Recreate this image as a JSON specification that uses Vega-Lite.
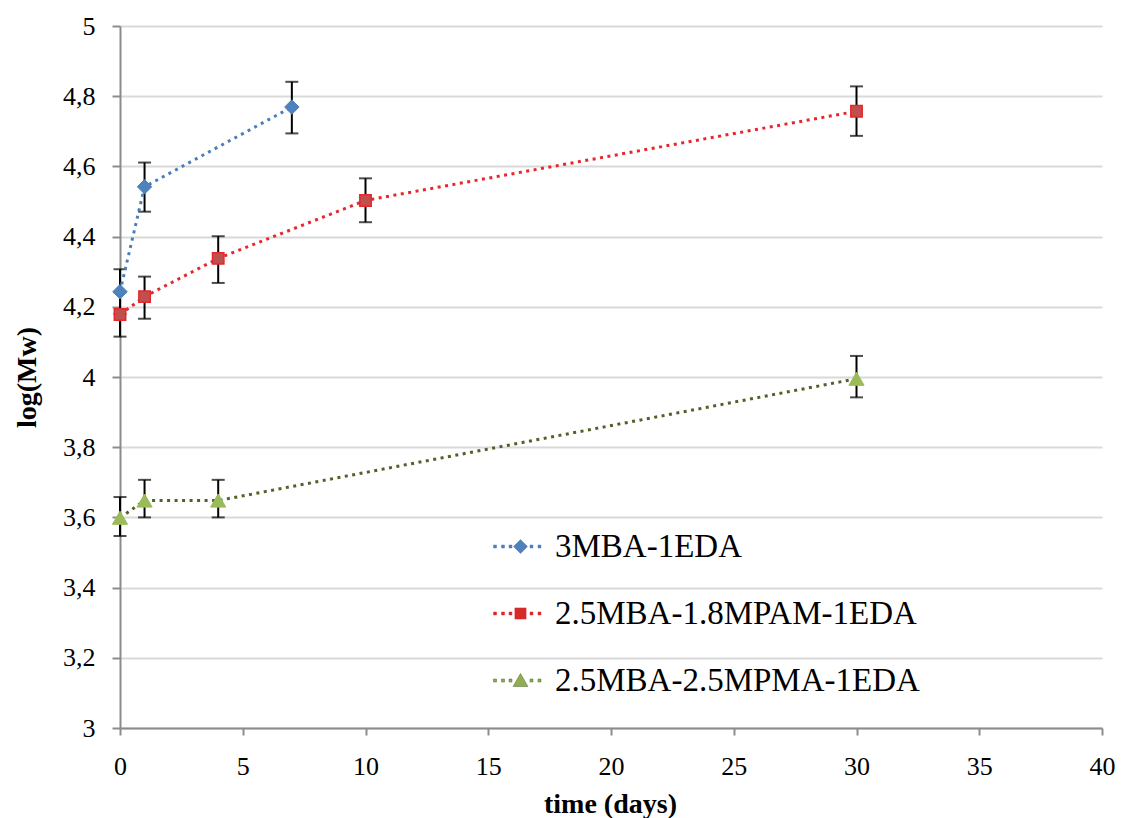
{
  "$schema": "https://vega.github.io/schema/vega-lite/v6.json",
  "width": 982,
  "height": 702,
  "autosize": "none",
  "padding": {"left": 120, "top": 26, "right": 22, "bottom": 90},
  "background": "white",
  "config": {
    "view": {"stroke": null},
    "font": "Liberation Serif",
    "axis": {"labelFont": "Liberation Serif, Times New Roman, DejaVu Serif, serif", "titleFont": "Liberation Serif"},
    "legend": {"labelFont": "Liberation Serif, Times New Roman, DejaVu Serif, serif", "labelFontSize": 33, "labelColor": "#000000", "labelLimit": 700}
  },
  "data": {
    "values": [
      {"series": "3MBA-1EDA", "t": 0, "y": 4.243, "lo": 4.179, "hi": 4.307},
      {"series": "3MBA-1EDA", "t": 1, "y": 4.542, "lo": 4.471, "hi": 4.611},
      {"series": "3MBA-1EDA", "t": 7, "y": 4.769, "lo": 4.694, "hi": 4.841},
      {"series": "2.5MBA-1.8MPAM-1EDA", "t": 0, "y": 4.178, "lo": 4.115, "hi": 4.241},
      {"series": "2.5MBA-1.8MPAM-1EDA", "t": 1, "y": 4.229, "lo": 4.166, "hi": 4.286},
      {"series": "2.5MBA-1.8MPAM-1EDA", "t": 4, "y": 4.338, "lo": 4.268, "hi": 4.401},
      {"series": "2.5MBA-1.8MPAM-1EDA", "t": 10, "y": 4.503, "lo": 4.441, "hi": 4.566},
      {"series": "2.5MBA-1.8MPAM-1EDA", "t": 30, "y": 4.757, "lo": 4.687, "hi": 4.828},
      {"series": "2.5MBA-2.5MPMA-1EDA", "t": 0, "y": 3.599, "lo": 3.547, "hi": 3.658},
      {"series": "2.5MBA-2.5MPMA-1EDA", "t": 1, "y": 3.648, "lo": 3.6, "hi": 3.707},
      {"series": "2.5MBA-2.5MPMA-1EDA", "t": 4, "y": 3.648, "lo": 3.6, "hi": 3.707},
      {"series": "2.5MBA-2.5MPMA-1EDA", "t": 30, "y": 3.995, "lo": 3.942, "hi": 4.06}
    ]
  },
  "encoding": {
    "x": {
      "field": "t", "type": "quantitative",
      "scale": {"domain": [0, 40], "nice": false, "zero": false},
      "axis": {
        "title": "time (days)",
        "values": [0, 5, 10, 15, 20, 25, 30, 35, 40],
        "grid": false,
        "domainColor": "#8c8c8c", "domainWidth": 2,
        "tickColor": "#8c8c8c", "tickWidth": 2, "tickSize": 7,
        "labelFont": "Liberation Serif, Times New Roman, DejaVu Serif, serif", "labelFontSize": 26, "labelColor": "#000000",
        "labelPadding": 18, "labelFlush": false,
        "titleFont": "Liberation Serif", "titleFontSize": 28, "titleFontWeight": "bold", "titleColor": "#000000",
        "titleX": 490, "titleY": 76, "titleBaseline": "middle", "titleAlign": "center"
      }
    }
  },
  "layer": [
    {
      "mark": {"type": "errorbar", "thickness": 2, "color": "#000000", "ticks": {"size": 13, "thickness": 2, "color": "#000000"}, "rule": {"strokeWidth": 2, "color": "#000000"}},
      "encoding": {
        "y": {"field": "lo", "type": "quantitative", "title": "log(Mw)", "scale": {"domain": [3, 5], "nice": false, "zero": false}},
        "y2": {"field": "hi"}
      }
    },
    {
      "mark": {"type": "line", "strokeWidth": 3, "strokeDash": [3, 4.5]},
      "encoding": {
        "y": {
          "field": "y", "type": "quantitative", "title": "log(Mw)",
          "scale": {"domain": [3, 5], "nice": false, "zero": false},
          "axis": {
            "title": "log(Mw)",
            "values": [3, 3.2, 3.4, 3.6, 3.8, 4, 4.2, 4.4, 4.6, 4.8, 5],
            "labelExpr": "replace(format(datum.value, '.1~f'), '.', ',')",
            "grid": true, "gridColor": "#d9d9d9", "gridWidth": 2,
            "domainColor": "#8c8c8c", "domainWidth": 2,
            "tickColor": "#8c8c8c", "tickWidth": 2, "tickSize": 8,
            "labelFont": "Liberation Serif, Times New Roman, DejaVu Serif, serif", "labelFontSize": 26, "labelColor": "#000000",
            "labelPadding": 17, "labelFlush": false,
            "titleFont": "Liberation Serif", "titleFontSize": 28, "titleFontWeight": "bold", "titleColor": "#000000",
            "titleX": -93, "titleY": 351, "titleBaseline": "middle", "titleAlign": "center", "titleAngle": -90
          }
        },
        "color": {
          "field": "series", "type": "nominal", "title": null,
          "scale": {"domain": ["3MBA-1EDA", "2.5MBA-1.8MPAM-1EDA", "2.5MBA-2.5MPMA-1EDA"], "range": ["#4a7ebb", "#e8262b", "#4f6228"]},
          "legend": {
            "title": null,
            "orient": "none",
            "legendX": 384,
            "legendY": 504,
            "padding": 0,
            "symbolSize": 196,
            "symbolOffset": 0,
            "symbolStrokeWidth": 0.5,
            "labelOffset": 18,
            "rowPadding": 33,
            "labelFont": "Liberation Serif, Times New Roman, DejaVu Serif, serif",
            "labelFontSize": 33,
            "labelColor": "#000000",
            "labelLimit": 700
          }
        }
      }
    },
    {
      "transform": [{"filter": "false"}],
      "mark": {"type": "point", "filled": true, "opacity": 1},
      "encoding": {
        "y": {"field": "y", "type": "quantitative", "title": "log(Mw)"},
        "fill": {
          "field": "series", "type": "nominal", "title": null,
          "scale": {"domain": ["3MBA-1EDA", "2.5MBA-1.8MPAM-1EDA", "2.5MBA-2.5MPMA-1EDA"], "range": ["#4f81bd", "#d42a2a", "#8fae55"]}
        },
        "shape": {
          "field": "series", "type": "nominal", "title": null,
          "scale": {"domain": ["3MBA-1EDA", "2.5MBA-1.8MPAM-1EDA", "2.5MBA-2.5MPMA-1EDA"], "range": [
            "M0,-1L1,0L0,1L-1,0ZM-3.85,-0.21L-3.43,-0.21L-3.43,0.21L-3.85,0.21ZM-2.71,-0.21L-2.29,-0.21L-2.29,0.21L-2.71,0.21ZM-1.64,-0.21L-1.22,-0.21L-1.22,0.21L-1.64,0.21ZM1.36,-0.21L1.78,-0.21L1.78,0.21L1.36,0.21ZM2.5,-0.21L2.92,-0.21L2.92,0.21L2.5,0.21Z",
            "M-0.8,-0.8L0.8,-0.8L0.8,0.8L-0.8,0.8ZM-3.85,-0.21L-3.43,-0.21L-3.43,0.21L-3.85,0.21ZM-2.71,-0.21L-2.29,-0.21L-2.29,0.21L-2.71,0.21ZM-1.64,-0.21L-1.22,-0.21L-1.22,0.21L-1.64,0.21ZM1.36,-0.21L1.78,-0.21L1.78,0.21L1.36,0.21ZM2.5,-0.21L2.92,-0.21L2.92,0.21L2.5,0.21Z",
            "M0,-1L1.05,0.85L-1.05,0.85ZM-3.85,-0.21L-3.43,-0.21L-3.43,0.21L-3.85,0.21ZM-2.71,-0.21L-2.29,-0.21L-2.29,0.21L-2.71,0.21ZM-1.64,-0.21L-1.22,-0.21L-1.22,0.21L-1.64,0.21ZM1.36,-0.21L1.78,-0.21L1.78,0.21L1.36,0.21ZM2.5,-0.21L2.92,-0.21L2.92,0.21L2.5,0.21Z"
          ]}
        }
      }
    },
    {
      "transform": [{"filter": "datum.series === '3MBA-1EDA'"}],
      "mark": {"type": "point", "filled": true, "opacity": 1, "shape": "diamond", "size": 210, "fill": "#4f81bd", "stroke": "#4f81bd", "strokeWidth": 1},
      "encoding": {"y": {"field": "y", "type": "quantitative", "title": "log(Mw)"}}
    },
    {
      "transform": [{"filter": "datum.series === '2.5MBA-1.8MPAM-1EDA'"}],
      "mark": {"type": "point", "filled": true, "opacity": 1, "shape": "square", "size": 130, "fill": "#c0504d", "stroke": "#e8262b", "strokeWidth": 1.5},
      "encoding": {"y": {"field": "y", "type": "quantitative", "title": "log(Mw)"}}
    },
    {
      "transform": [{"filter": "datum.series === '2.5MBA-2.5MPMA-1EDA'"}],
      "mark": {"type": "point", "filled": true, "opacity": 1, "shape": "triangle-up", "size": 230, "fill": "#9bbb59", "stroke": "#9bbb59", "strokeWidth": 1},
      "encoding": {"y": {"field": "y", "type": "quantitative", "title": "log(Mw)"}}
    }
  ]
}
